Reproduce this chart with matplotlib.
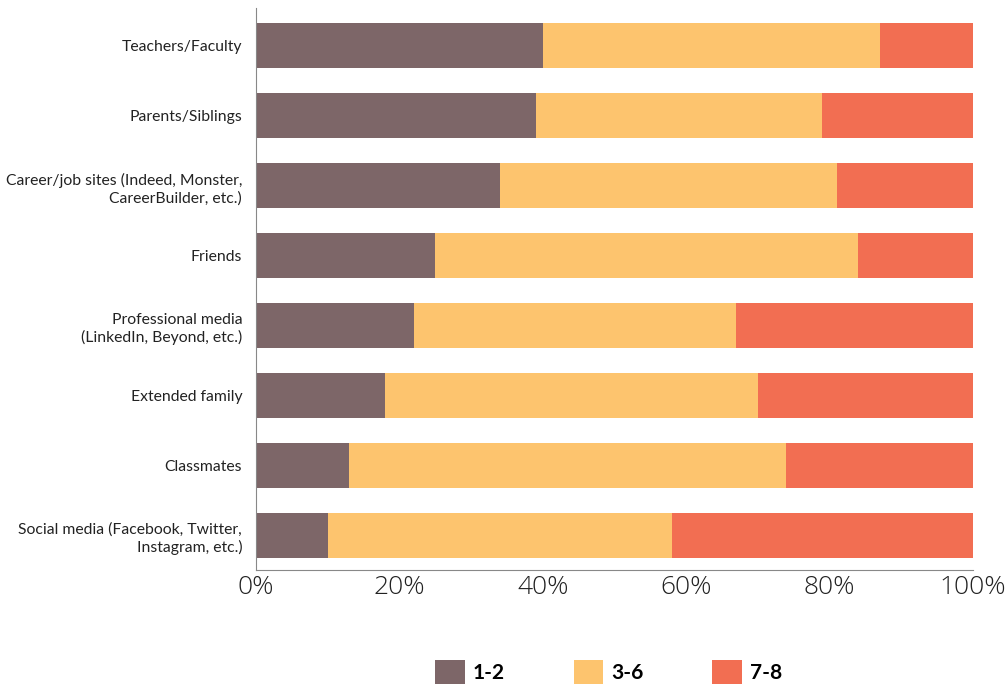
import matplotlib
matplotlib.use("Agg")
import matplotlib.pyplot as plt
from matplotlib.patches import Patch

# Data

categories = [
    "Teachers/Faculty",
    "Parents/Siblings",
    "Career/job sites (Indeed, Monster,\nCareerBuilder, etc.)",
    "Friends",
    "Professional media\n(LinkedIn, Beyond, etc.)",
    "Extended family",
    "Classmates",
    "Social media (Facebook, Twitter,\nInstagram, etc.)",
]

low = [40, 39, 34, 25, 22, 18, 13, 10]
mid = [47, 40, 47, 59, 45, 52, 61, 48]
high = [13, 21, 19, 16, 33, 30, 26, 42]

series_labels = ["1-2", "3-6", "7-8"]
colors = ["#7D6668", "#FDC46E", "#F26E52"]

plt.rcParams["font.family"] = ["Lato", "DejaVu Sans"]

fig = plt.figure(figsize=(10.08, 6.89), dpi=100)
ax = fig.add_axes([0.254, 0.173, 0.711, 0.815])

y = list(range(len(categories)))

left = [0] * len(categories)
for values, color in zip([low, mid, high], colors):
    ax.barh(y, values, left=left, height=0.64, color=color)
    left = [a + b for a, b in zip(left, values)]

ax.set_ylim(len(categories) - 1 + 0.49, -0.536)
ax.set_xlim(0, 100)

ax.set_yticks(y)
ax.set_yticklabels(categories, fontsize=11.3, linespacing=1.3, color="#222222")
ax.set_xticks([0, 20, 40, 60, 80, 100])
ax.set_xticklabels(["0%", "20%", "40%", "60%", "80%", "100%"],
                   fontsize=19, fontweight="light", color="#222222",
                   family=["Open Sans", "DejaVu Sans"])

ax.tick_params(axis="both", length=0)
ax.tick_params(axis="x", pad=4)
ax.tick_params(axis="y", pad=10)

for side in ["top", "right"]:
    ax.spines[side].set_visible(False)
ax.spines["left"].set_color("#888888")
ax.spines["bottom"].set_color("#888888")
ax.spines["left"].set_linewidth(0.8)
ax.spines["bottom"].set_linewidth(0.8)

handles = [Patch(facecolor=c, label=l) for c, l in zip(colors, series_labels)]
fig.legend(
    handles=handles,
    loc="center",
    bbox_to_anchor=(0.604, 0.025),
    ncol=3,
    frameon=False,
    handlelength=1.4,
    handleheight=1.4,
    handletextpad=0.4,
    columnspacing=3.3,
    prop={"size": 15, "weight": "bold"},
)

fig.savefig("out.png", dpi=100)
